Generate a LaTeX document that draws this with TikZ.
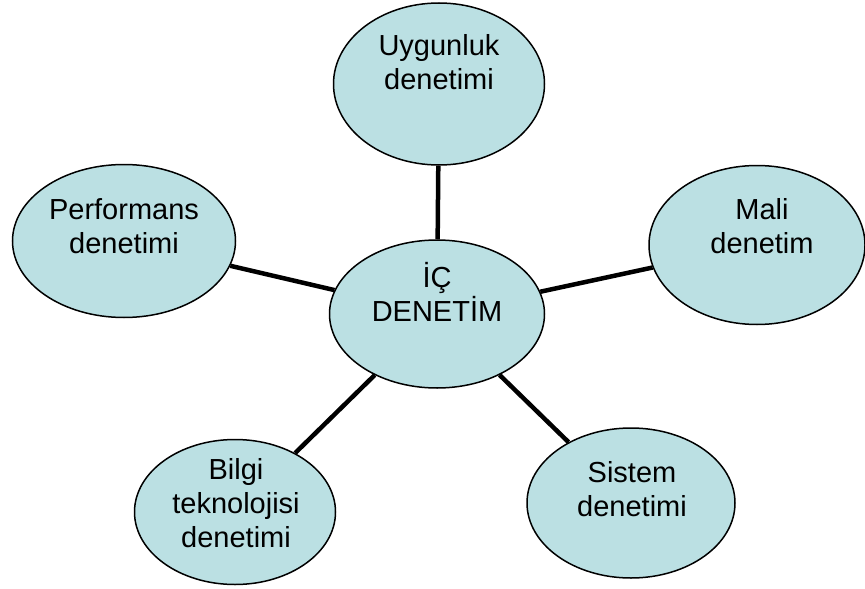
\documentclass[tikz,border=0pt]{standalone}
\usepackage{fontspec}
\setmainfont{Liberation Sans}
\usetikzlibrary{shapes.geometric}
\definecolor{bubfill}{RGB}{187,224,227}
\tikzset{
  bub/.style={ellipse,draw=black,line width=1.5pt,fill=bubfill,inner sep=0pt},
  txt/.style={align=center,inner sep=0pt,font=\fontsize{29}{34}\selectfont},
  link/.style={line width=4.5pt,black}
}
\begin{document}
\begin{tikzpicture}[x=1pt,y=-1pt]
   \useasboundingbox (0,0) rectangle (865,589);
   % baloncuklar
   \node[bub,minimum width=215,minimum height=148] (ic) at (437,314) {};
   \node[bub,minimum width=211,minimum height=162] (uyg) at (439,84) {};
   \node[bub,minimum width=223,minimum height=153] (perf) at (124,241) {};
   \node[bub,minimum width=216,minimum height=159] (mali) at (757,245) {};
   \node[bub,minimum width=201,minimum height=145] (bilgi) at (235,512) {};
   \node[bub,minimum width=208,minimum height=150] (sis) at (631,503) {};
   % yazilar
   \node[txt] (ict) at (437,292) {İÇ\\DENETİM};
   \node[txt] (uygt) at (439,62) {Uygunluk\\denetimi};
   \node[txt] (perft) at (124,226) {Performans\\denetimi};
   \node[txt] (malit) at (762,226) {Mali\\denetim};
   \node[txt] (bilgit) at (236,503) {Bilgi\\teknolojisi\\denetimi};
   \node[txt] (sist) at (632,489) {Sistem\\denetimi};
   % baglantilar
   \draw[link] (ic) -- (uyg);
   \draw[link] (ic) -- (perf);
   \draw[link] (ic) -- (mali);
   \draw[link] (ic) -- (bilgi);
   \draw[link] (ic) -- (sis);
\end{tikzpicture}
\end{document}
